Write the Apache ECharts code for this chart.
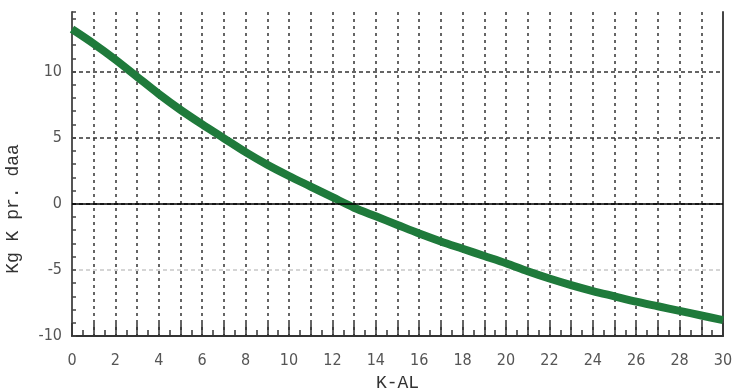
<!DOCTYPE html>
<html>
<head>
<meta charset="utf-8">
<script src="https://cdn.jsdelivr.net/npm/echarts@6/dist/echarts.min.js"></script>
<style>html,body{margin:0;padding:0;background:#fff}#c{width:735px;height:390px}</style>
</head>
<body>
<div id="c"></div>
<script>
const kAL = [0,1,2,3,4,5,6,7,8,9,10,11,12,13,14,15,16,17,18,19,20,21,22,23,24,25,26,27,28,29,30];
const kgK = [13.2,12.1,10.9,9.6,8.3,7.1,6.0,4.95,3.9,2.95,2.1,1.3,0.5,-0.3,-0.95,-1.6,-2.25,-2.85,-3.4,-3.95,-4.5,-5.1,-5.65,-6.15,-6.6,-7.0,-7.4,-7.75,-8.1,-8.45,-8.8];
const xTickLabels = ['0','2','4','6','8','10','12','14','16','18','20','22','24','26','28','30'];
const yTickLabels = ['-10','-5','0','5','10'];

const labelFont = '"DejaVu Sans Condensed", "Liberation Sans Narrow", "DejaVu Sans", sans-serif';
const nameFont = '"Liberation Mono", "DejaVu Sans Mono", monospace';
const xGridColors = kAL.map((v, i) => i === 0 ? 'rgba(0,0,0,0)' : '#333');

const chart = echarts.init(document.getElementById('c'), null, {renderer: 'canvas'});
chart.setOption({
  animation: false,
  grid: {left: 72, right: 12, top: 12, bottom: 54, outerBoundsMode: 'none', containLabel: false},
  xAxis: {
    type: 'value', min: 0, max: 30, interval: 1,
    name: 'K-AL', nameLocation: 'middle', nameGap: 38,
    nameTextStyle: {fontFamily: nameFont, fontSize: 18, color: '#333'},
    axisLine: {show: true, onZero: false, lineStyle: {color: '#333', width: 2}},
    axisTick: {show: true, inside: true, length: 13, lineStyle: {color: '#333', width: 1.5}},
    minorTick: {show: true, splitNumber: 2, length: 6, lineStyle: {color: '#333', width: 1.5}},
    axisLabel: {
      margin: 17, fontFamily: labelFont, fontSize: 16, color: '#555',
      formatter: v => xTickLabels.indexOf(String(v)) >= 0 ? String(v) : ''
    },
    splitLine: {show: true, lineStyle: {color: xGridColors, type: [3, 4], width: 1.5}}
  },
  yAxis: [{
    type: 'value', min: -10, max: 14.5, interval: 5,
    name: 'Kg K pr. daa', nameLocation: 'middle', nameGap: 50,
    nameTextStyle: {fontFamily: nameFont, fontSize: 18, color: '#333', padding: [0, 70, 0, 0]},
    axisLine: {show: true, onZero: false, lineStyle: {color: '#555', width: 2}},
    axisTick: {show: true, inside: true, length: 4, lineStyle: {color: '#444', width: 1.5}},
    minorTick: {show: true, splitNumber: 5, length: 4, lineStyle: {color: '#444', width: 1.5}},
    axisLabel: {
      margin: 10, fontFamily: labelFont, fontSize: 16, color: '#555', padding: [10, 0, 0, 0],
      formatter: v => yTickLabels.indexOf(String(v)) >= 0 ? String(v) : ''
    },
    splitLine: {show: true, lineStyle: {color: ['rgba(0,0,0,0)', '#c8c8c8', '#222', '#333', '#333', 'rgba(0,0,0,0)'], type: [4, 3], width: 1.5}}
  }, {
    type: 'value', min: -10, max: 14.5, position: 'right',
    axisLine: {show: true, onZero: false, lineStyle: {color: '#444', width: 2}},
    axisTick: {show: false}, axisLabel: {show: false}, splitLine: {show: false}
  }],
  series: [{
    type: 'line',
    data: kAL.map((x, i) => [x, kgK[i]]),
    smooth: 0.3,
    showSymbol: false,
    lineStyle: {color: '#1f7a3b', width: 8},
    markLine: {
      silent: true, symbol: 'none', label: {show: false},
      lineStyle: {color: '#000', type: 'solid', width: 1.5},
      data: [{yAxis: 0}]
    },
    z: 3
  }]
});
</script>
</body>
</html>
